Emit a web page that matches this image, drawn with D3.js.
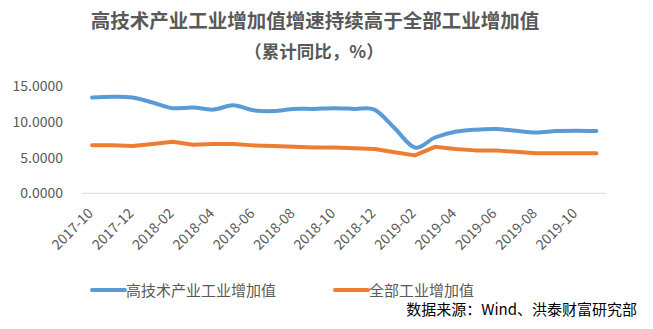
<!DOCTYPE html>
<html><head><meta charset="utf-8">
<script src="https://cdn.jsdelivr.net/npm/d3@7"></script>
<style>
body{margin:0;background:#fff;}
svg{display:block;font-family:"Noto Sans CJK SC","Noto Sans",sans-serif;}
</style></head><body>
<svg id="c" width="653" height="329"></svg>
<script>
const months = ["2017-10","2017-11","2017-12","2018-01","2018-02","2018-03","2018-04","2018-05","2018-06","2018-07","2018-08","2018-09","2018-10","2018-11","2018-12","2019-01","2019-02","2019-03","2019-04","2019-05","2019-06","2019-07","2019-08","2019-09","2019-10","2019-11"];
const hiTech = [13.4,13.5,13.4,12.7,11.9,12.0,11.7,12.3,11.6,11.5,11.8,11.8,11.9,11.8,11.7,9.1,6.4,7.8,8.6,8.9,9.0,8.75,8.5,8.7,8.75,8.7];
const allInd = [6.7,6.7,6.6,6.9,7.2,6.8,6.9,6.9,6.7,6.6,6.5,6.4,6.4,6.3,6.2,5.75,5.3,6.5,6.2,6.0,6.0,5.8,5.6,5.6,5.6,5.6];
const yTicks = [0,5,10,15];
const xTickLabels = months.filter((d,i)=>i%2===0);
const seriesNames = ["高技术产业工业增加值","全部工业增加值"];
const colors = ["#5B9BD5","#ED7D31"];

const svg = d3.select("#c");
const x = d3.scalePoint().domain(months).range([82,606.5]).padding(0.5);
const y = d3.scaleLinear().domain([0,15]).range([193.3,86]);

svg.append("text").attr("x",315).attr("y",28).attr("text-anchor","middle")
  .attr("font-size",19.5).attr("font-weight","bold").attr("fill","#595959")
  .text("高技术产业工业增加值增速持续高于全部工业增加值");
svg.append("text").attr("x",314).attr("y",58).attr("text-anchor","middle")
  .attr("font-size",17.5).attr("font-weight","bold").attr("fill","#595959")
  .text("（累计同比，%）");

// y axis labels
svg.append("g").selectAll("text").data(yTicks).join("text")
  .attr("x",63).attr("y",d=>y(d)+5).attr("text-anchor","end")
  .attr("font-size",14).attr("fill","#595959")
  .text(d=>d3.format(".4f")(d));

// baseline
svg.append("line").attr("x1",82).attr("x2",606.5).attr("y1",y(0)).attr("y2",y(0))
  .attr("stroke","#d9d9d9").attr("stroke-width",1);

// x labels
svg.append("g").selectAll("text").data(xTickLabels).join("text")
  .attr("transform",d=>`translate(${x(d)+2},${y(0)+21}) rotate(-45)`)
  .attr("text-anchor","end").attr("font-size",14).attr("fill","#595959")
  .text(d=>d);

const line1 = d3.line().x((d,i)=>x(months[i])).y(d=>y(d)).curve(d3.curveCatmullRom.alpha(0));
const line2 = d3.line().x((d,i)=>x(months[i])).y(d=>y(d)).curve(d3.curveLinear);
svg.append("path").attr("d",line1(hiTech)).attr("fill","none").attr("stroke",colors[0])
  .attr("stroke-width",4).attr("stroke-linecap","round").attr("stroke-linejoin","round");
svg.append("path").attr("d",line2(allInd)).attr("fill","none").attr("stroke",colors[1])
  .attr("stroke-width",4).attr("stroke-linecap","round").attr("stroke-linejoin","round");

// legend
const lg = [{x:92,name:seriesNames[0],c:colors[0]},{x:335,name:seriesNames[1],c:colors[1]}];
lg.forEach(l=>{
  svg.append("line").attr("x1",l.x).attr("x2",l.x+33).attr("y1",290).attr("y2",290)
    .attr("stroke",l.c).attr("stroke-width",4).attr("stroke-linecap","round");
  svg.append("text").attr("x",l.x+34).attr("y",295.5).attr("font-size",15).attr("fill","#595959").text(l.name);
});
svg.append("text").attr("x",637).attr("y",315).attr("text-anchor","end").attr("font-size",15)
  .attr("fill","#000").text("数据来源：Wind、洪泰财富研究部");
</script>
</body></html>
